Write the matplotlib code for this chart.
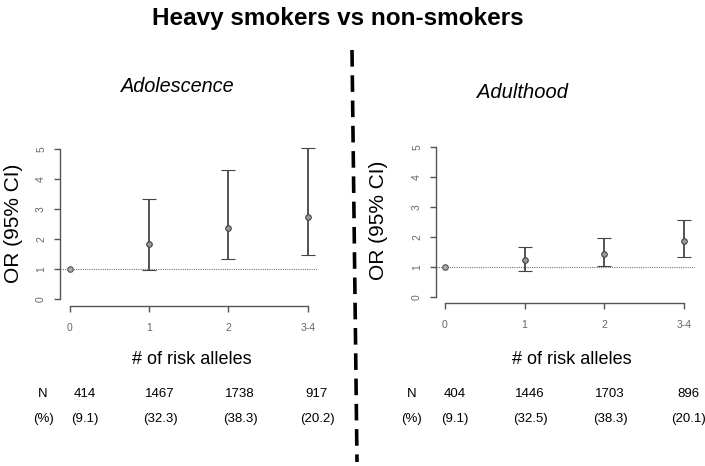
import matplotlib
matplotlib.use("Agg")
import matplotlib.pyplot as plt
from matplotlib.lines import Line2D

plt.rcParams["font.family"] = ["Liberation Sans", "DejaVu Sans"]

W, H = 705, 466

## DONNEES

groupes = ["0", "1", "2", "3-4"]

or_ado = [1.0, 1.82, 2.38, 2.73]
bas_ado = [1.0, 0.97, 1.33, 1.45]
haut_ado = [1.0, 3.32, 4.30, 5.03]
n_ado = ["414", "1467", "1738", "917"]
pct_ado = ["(9.1)", "(32.3)", "(38.3)", "(20.2)"]

or_adu = [1.0, 1.22, 1.42, 1.85]
bas_adu = [1.0, 0.88, 1.04, 1.32]
haut_adu = [1.0, 1.68, 1.96, 2.58]
n_adu = ["404", "1446", "1703", "896"]
pct_adu = ["(9.1)", "(32.5)", "(38.3)", "(20.1)"]


def fx(px):
    return px / W


def fy(py):
    return 1 - py / H


def panneau(fig, box, xlim, ylim, OR, bas, haut):
    x0, y0, x1, y1 = box
    ax = fig.add_axes([fx(x0), fy(y1), fx(x1) - fx(x0), fy(y0) - fy(y1)])
    ax.set_xlim(*xlim)
    ax.set_ylim(*ylim)
    ax.patch.set_alpha(0)
    for s in ["top", "right"]:
        ax.spines[s].set_visible(False)
    ax.spines["left"].set_bounds(0, 5)
    ax.spines["bottom"].set_bounds(0, 3)
    for s in ["left", "bottom"]:
        ax.spines[s].set_color("#555555")
        ax.spines[s].set_linewidth(1.0)

    ax.axhline(1, color="#777777", lw=0.8, ls=(0, (1, 1)))

    x = list(range(len(groupes)))
    # point de référence sans IC
    ax.plot([0], [OR[0]], "o", ms=4, mfc="#aaaaaa", mec="#555555", mew=0.8)
    err = [[OR[i] - bas[i] for i in x[1:]], [haut[i] - OR[i] for i in x[1:]]]
    ax.errorbar(x[1:], OR[1:], yerr=err, fmt="o", ms=4, mfc="#999999",
                mec="#444444", mew=0.8, ecolor="#444444", elinewidth=1.3,
                capsize=5, capthick=1.3)

    ax.set_xticks(x)
    ax.set_xticklabels(groupes)
    ax.set_yticks(range(6))
    ax.set_yticklabels([str(i) for i in range(6)], rotation=90, va="center")
    ax.tick_params(colors="#555555", labelcolor="#666666", labelsize=7.5,
                   length=4, width=1.0)
    ax.tick_params(axis="x", pad=8)
    ax.tick_params(axis="y", pad=6)
    return ax


fig = plt.figure(figsize=(W / 100, H / 100), dpi=100)

panneau(fig, (60, 145, 318, 306), (-0.126, 3.13), (-0.233, 5.13),
        or_ado, bas_ado, haut_ado)
panneau(fig, (436, 143, 695, 303), (-0.113, 3.14), (-0.2, 5.13),
        or_adu, bas_adu, haut_adu)

# titres
fig.text(fx(338), fy(19), "Heavy smokers vs non-smokers", ha="center",
         va="center", fontsize=17.5, fontweight="bold")
fig.text(fx(178), fy(86), "Adolescence", ha="center", va="center",
         fontsize=14.3, style="italic")
fig.text(fx(522), fy(93), "Adulthood", ha="center", va="center",
         fontsize=14.5, style="italic")

# axes
fig.text(fx(14), fy(223), "OR (95% CI)", rotation=90, ha="center",
         va="center", fontsize=15)
fig.text(fx(378), fy(220), "OR (95% CI)", rotation=90, ha="center",
         va="center", fontsize=15)
fig.text(fx(192), fy(360), "# of risk alleles", ha="center", va="center",
         fontsize=13)
fig.text(fx(572), fy(360), "# of risk alleles", ha="center", va="center",
         fontsize=13)

# effectifs
pos_ado = [43, 85, 160, 240, 317]
pos_adu = [412, 455, 530, 610, 688]
for pos, ns, pcts in [(pos_ado, n_ado, pct_ado), (pos_adu, n_adu, pct_adu)]:
    for px, t1, t2 in zip(pos, ["N"] + ns, ["(%)"] + pcts):
        fig.text(fx(px), fy(394), t1, ha="center", va="center", fontsize=9.5)
        fig.text(fx(px), fy(419), t2, ha="center", va="center", fontsize=9.5)

# séparation
fig.add_artist(Line2D([fx(352), fx(357)], [fy(50), fy(462)], color="black",
                      lw=2.6, ls=(0, (4.6, 2.4))))

fig.savefig("out.png", dpi=100)
